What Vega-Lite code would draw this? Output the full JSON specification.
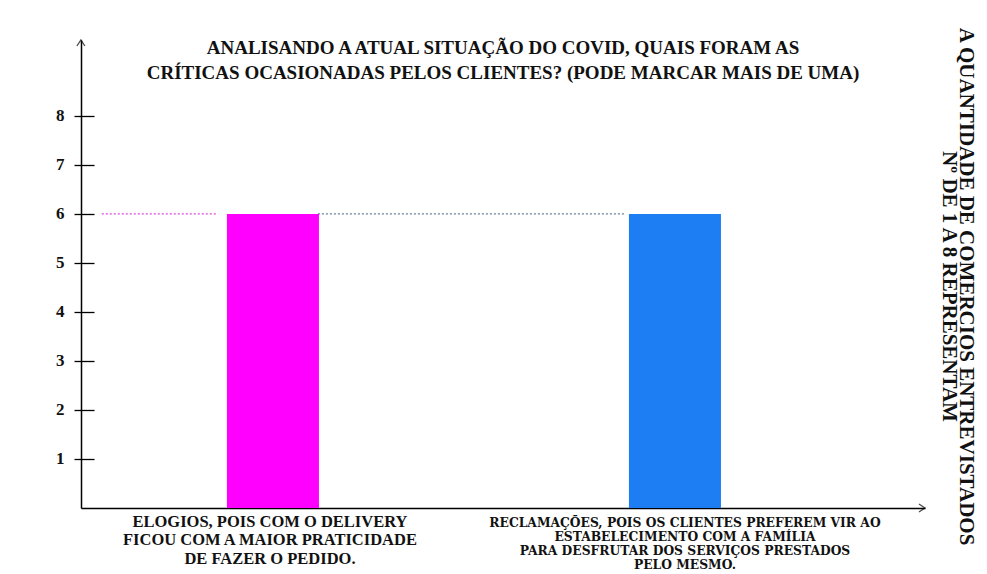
{
  "$schema": "https://vega.github.io/schema/vega-lite/v6.json",
  "width": 844,
  "height": 468,
  "autosize": {"type": "none"},
  "padding": {"left": 81, "top": 40, "right": 62, "bottom": 66},
  "background": "white",
  "config": {"view": {"stroke": null}, "font": "Liberation Serif", "title": {"font": "Liberation Serif"}},
  "title": {
    "text": ["ANALISANDO A ATUAL SITUAÇÃO DO COVID, QUAIS FORAM AS", "CRÍTICAS OCASIONADAS PELOS CLIENTES? (PODE MARCAR MAIS DE UMA)"],
    "font": "Liberation Serif",
    "fontSize": 19,
    "fontWeight": "bold",
    "color": "#111",
    "anchor": "middle",
    "offset": -44,
    "dy": 12,
    "lineHeight": 25
  },
  "data": {
    "values": [
      {"cat": "ELOGIOS, POIS COM O DELIVERY\nFICOU COM A MAIOR PRATICIDADE\nDE FAZER O PEDIDO.", "kind": "elogios", "value": 6},
      {"cat": "RECLAMAÇÕES, POIS OS CLIENTES PREFEREM VIR AO\nESTABELECIMENTO COM A FAMÍLIA\nPARA DESFRUTAR DOS SERVIÇOS PRESTADOS\nPELO MESMO.", "kind": "reclamacoes", "value": 6}
    ]
  },
  "resolve": {"axis": {"y": "independent", "x": "independent"}},
  "layer": [
    {
      "transform": [{"filter": {"field": "kind", "equal": "elogios"}}],
      "mark": {"type": "rule", "stroke": "#e048e0", "strokeWidth": 1.3, "strokeDash": [2, 2]},
      "encoding": {
        "x": {"field": "cat", "type": "nominal", "bandPosition": -1.36, "axis": null,
              "scale": {"paddingInner": 0.7711, "paddingOuter": 0.4353, "align": 0.417}},
        "x2": {"field": "cat", "bandPosition": -0.1},
        "y": {"field": "value", "type": "quantitative",
              "scale": {"domain": [0, 9.55], "nice": false, "zero": true},
              "axis": {"orient": "left", "offset": -13, "tickSize": 13, "values": [1,2,3,4,5,6,7,8],
                       "labels": false, "domain": false, "grid": false, "title": null,
                       "tickColor": "black", "tickWidth": 1.3}}
      }
    },
    {
      "transform": [{"filter": {"field": "kind", "equal": "reclamacoes"}}],
      "mark": {"type": "rule", "stroke": "#6a7f98", "strokeWidth": 1.3, "strokeDash": [2, 2]},
      "encoding": {
        "x": {"field": "cat", "type": "nominal", "bandPosition": -3.38, "axis": null},
        "x2": {"field": "cat", "bandPosition": -0.05},
        "y": {"field": "value", "type": "quantitative",
              "axis": {"orient": "right", "labels": false, "ticks": false, "domain": false, "grid": false,
                       "title": ["A QUANTIDADE DE COMERCIOS ENTREVISTADOS", "Nº DE 1 A 8 REPRESENTAM"],
                       "titleFont": "Liberation Serif", "titleFontSize": 21, "titleFontWeight": "bold",
                       "titleColor": "#111", "titleAngle": 90, "titleLineHeight": 17, "titlePadding": 13, "titleY": 246}}
      }
    },
    {
      "mark": {"type": "bar"},
      "encoding": {
        "x": {"field": "cat", "type": "nominal", "sort": null,
              "axis": {"orient": "bottom", "title": null, "ticks": false, "domainColor": "black", "domainWidth": 1.5,
                       "labelAngle": 0, "labelLimit": 1000, "labelColor": "#111",
                       "labelExpr": "split(datum.label, '\\n')",
                       "labelPadding": {"condition": {"test": "datum.index > 0.5", "value": 8}, "value": 5},
                       "labelOffset": {"condition": {"test": "datum.index > 0.5", "value": 10}, "value": -3},
                       "labelFont": {"condition": {"test": "datum.index > 0.5", "value": "DejaVu Serif"}, "value": "Liberation Serif"},
                       "labelFontSize": {"condition": {"test": "datum.index > 0.5", "value": 12.3}, "value": 16.5},
                       "labelFontWeight": "bold",
                       "encode": {"labels": {"update": {"lineHeight": {"signal": "datum.index > 0.5 ? 14.8 : 18"}}}}}},
        "y": {"field": "value", "type": "quantitative",
              "axis": {"orient": "left", "values": [1,2,3,4,5,6,7,8], "tickSize": 7, "tickColor": "black", "tickWidth": 1.3,
                       "domainColor": "black", "domainWidth": 1.5, "grid": false, "title": null,
                       "labelFont": "Liberation Serif", "labelFontSize": 17, "labelFontWeight": "bold",
                       "labelColor": "#111", "labelPadding": 10}},
        "color": {"field": "kind", "type": "nominal", "legend": null,
                  "scale": {"domain": ["elogios", "reclamacoes"], "range": ["#ff00ff", "#1c7ef2"]}}
      }
    },
    {
      "transform": [{"filter": {"field": "kind", "equal": "elogios"}}],
      "mark": {"type": "point", "shape": "M -1 1.5 L 0 0 L 1 1.5", "filled": false, "stroke": "black", "strokeWidth": 1.3, "size": 64},
      "encoding": {
        "x": {"field": "cat", "type": "nominal", "bandPosition": -1.587, "axis": null},
        "y": {"datum": 9.55, "type": "quantitative", "axis": null}
      }
    },
    {
      "transform": [{"filter": {"field": "kind", "equal": "reclamacoes"}}],
      "mark": {"type": "point", "shape": "M -1.5 -1 L 0 0 L -1.5 1", "filled": false, "stroke": "black", "strokeWidth": 1.3, "size": 64},
      "encoding": {
        "x": {"field": "cat", "type": "nominal", "bandPosition": 3.217, "axis": null},
        "y": {"datum": 0, "type": "quantitative", "axis": null}
      }
    }
  ]
}
